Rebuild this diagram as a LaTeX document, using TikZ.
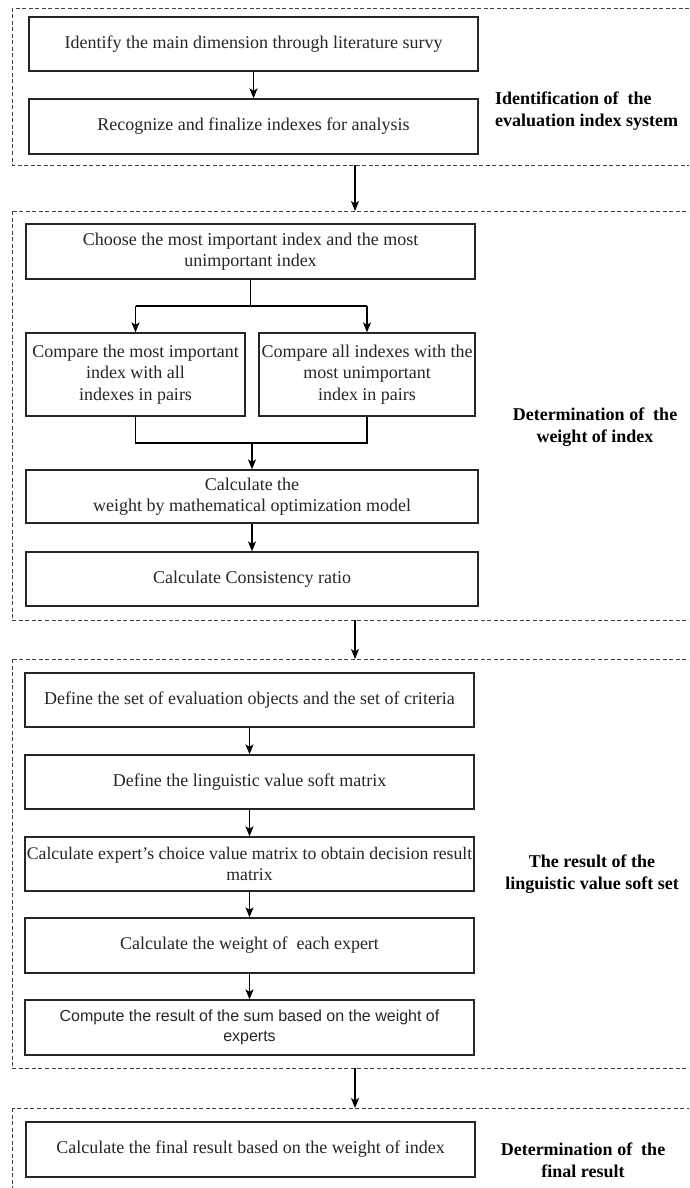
\documentclass[tikz,border=0pt]{standalone}
\usepackage{fontspec}
\setmainfont{Liberation Serif}
\newfontfamily\arialfont{Liberation Sans}
\usetikzlibrary{arrows.meta}
\begin{document}
\begin{tikzpicture}[x=1pt,y=-1pt,
  box/.style={draw=black!85, line width=1.3pt, fill=white, inner sep=0pt, align=center,
    font=\fontsize{18}{21.6}\selectfont, text=black!85, minimum width=449pt, minimum height=54pt},
  grp/.style={draw=black!75, line width=0.9pt, dash pattern=on 4pt off 2.5pt},
  lab/.style={font=\bfseries\fontsize{18}{21.6}\selectfont, align=center, text=black},
  arr/.style={draw=black, line width=1.3pt, -{Stealth[length=10pt,width=8pt,inset=2.5pt]}},
  ln/.style={draw=black, line width=1.3pt}]
\useasboundingbox (0,0) rectangle (689,1188);
\fill[white] (0,0) rectangle (689,1188);
\clip (0,0) rectangle (689,1188);

% group frames
\draw[grp] (12,8) rectangle (720,165);
\draw[grp] (12,211) rectangle (720,620);
\draw[grp] (12,659) rectangle (720,1068);
\draw[grp] (12,1108) rectangle (720,1230);

% group 1
\node[box] (b1) at (253.5,44) {Identify the main dimension through literature survy};
\node[box, minimum height=55pt] (b2) at (253.5,126.5) {Recognize and finalize indexes for analysis};
\draw[arr] (b1.south) -- (b2.north);
\node[lab, align=left, anchor=west, inner sep=0pt] (l1) at (495,111) {Identification of\ \ the\\ evaluation index system};

\coordinate (g1b) at (355,165);
\coordinate (g2t) at (355,211);
\draw[arr] (g1b) -- (g2t);

% group 2
\node[box, minimum height=55pt] (ch) at (250.5,251.5) {Choose the most important index and the most\\unimportant index};
\node[box, minimum width=219pt, minimum height=83pt] (cl) at (135.5,374.5) {Compare the most important\\index with all\\indexes in pairs};
\node[box, minimum width=216pt, minimum height=83pt] (cr) at (367,374.5) {Compare all indexes with the\\most unimportant\\index in pairs};
\node[box, minimum width=452pt, minimum height=53pt] (cw) at (252,496.5) {Calculate the\\weight by mathematical optimization model};
\node[box, minimum width=452pt] (cc) at (252,579) {Calculate Consistency ratio};
\coordinate (sp) at (250.5,306);
\draw[ln] (ch.south) -- (sp);
\draw[ln] (sp -| cl.north) -- (sp -| cr.north);
\draw[arr] (sp -| cl.north) -- (cl.north);
\draw[arr] (sp -| cr.north) -- (cr.north);
\coordinate (jn) at (252,443);
\draw[ln] (cl.south) -- (cl.south |- jn) -- (cr.south |- jn) -- (cr.south);
\draw[arr] (jn) -- (cw.north);
\draw[arr] (cw.south) -- (cc.north);
\node[lab] (l2) at (595,427) {Determination of\ \ the\\weight of index};

\coordinate (g2b) at (355,620);
\coordinate (g3t) at (355,659);
\draw[arr] (g2b) -- (g3t);

% group 3
\node[box] (d1) at (249.5,700) {Define the set of evaluation objects and the set of criteria};
\node[box] (d2) at (249.5,782) {Define the linguistic value soft matrix};
\node[box, font=\fontsize{17.7}{21.6}\selectfont] (d3) at (249.5,864) {Calculate expert's choice value matrix to obtain decision result\\matrix};
\node[box, minimum height=55pt] (d4) at (249.5,945.5) {Calculate the weight of\ \ each expert};
\node[box, minimum height=55pt, font=\arialfont\fontsize{16}{20}\selectfont] (d5) at (249.5,1027.5) {Compute the result of the sum based on the weight of\\experts};
\draw[arr] (d1.south) -- (d2.north);
\draw[arr] (d2.south) -- (d3.north);
\draw[arr] (d3.south) -- (d4.north);
\draw[arr] (d4.south) -- (d5.north);
\node[lab] (l3) at (592,874) {The result of the\\linguistic value soft set};

\coordinate (g3b) at (355,1068);
\coordinate (g4t) at (355,1108);
\draw[arr] (g3b) -- (g4t);

% group 4
\node[box, minimum height=55pt] (f1) at (250.5,1149.5) {Calculate the final result based on the weight of index};
\node[lab] (l4) at (583,1160) {Determination of\ \ the\\final result};
\end{tikzpicture}
\end{document}
